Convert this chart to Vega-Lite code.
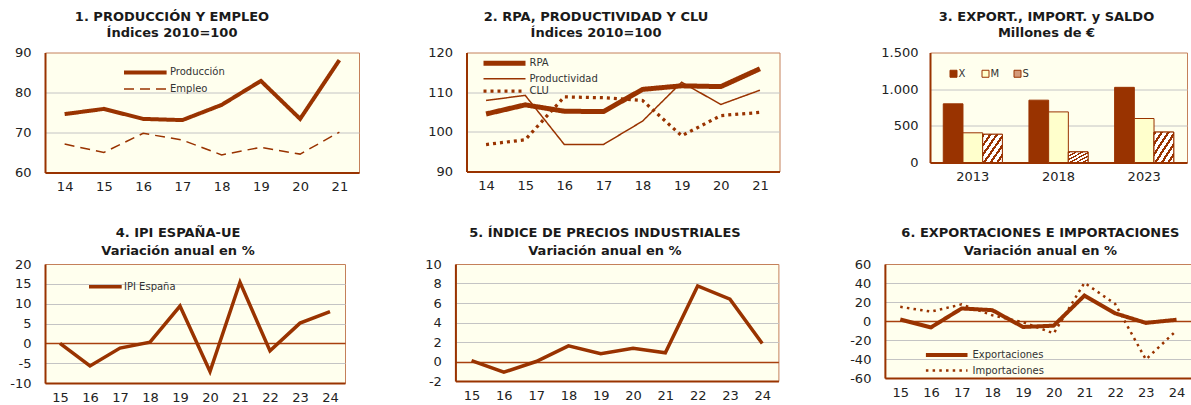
{
  "$schema": "https://vega.github.io/schema/vega-lite/v6.json",
  "background": "white",
  "padding": {"left": 9, "top": 9.5, "right": 0, "bottom": 0},
  "config": {
    "font": "DejaVu Sans",
    "view": {"fill": "#FFFFEE", "stroke": "#C4805A", "strokeWidth": 1},
    "axis": {"labelFont": "DejaVu Sans", "labelFontSize": 13, "labelColor": "#222222", "ticks": false, "tickSize": 0, "domainColor": "#993300", "domainWidth": 2, "gridColor": "#C4C4C4", "gridWidth": 1, "labelPadding": 14},
    "axisX": {"labelAngle": 0, "grid": false, "labelPadding": 8},
    "title": {"font": "DejaVu Sans", "fontSize": 13, "fontWeight": "bold", "color": "#1a1a1a", "anchor": "middle", "frame": "group", "lineHeight": 16},
    "legend": {"orient": "none", "labelFont": "DejaVu Sans", "labelFontSize": 10, "labelColor": "#333333", "padding": 0}
  },
  "datasets": {
    "p1": [
      {"a": "14", "s": "Producción", "v": 74.6}, {"a": "15", "s": "Producción", "v": 75.9}, {"a": "16", "s": "Producción", "v": 73.4}, {"a": "17", "s": "Producción", "v": 73.1},
      {"a": "18", "s": "Producción", "v": 76.9}, {"a": "19", "s": "Producción", "v": 82.9}, {"a": "20", "s": "Producción", "v": 73.4}, {"a": "21", "s": "Producción", "v": 88.1},
      {"a": "14", "s": "Empleo", "v": 67.1}, {"a": "15", "s": "Empleo", "v": 65.0}, {"a": "16", "s": "Empleo", "v": 69.8}, {"a": "17", "s": "Empleo", "v": 68.1},
      {"a": "18", "s": "Empleo", "v": 64.4}, {"a": "19", "s": "Empleo", "v": 66.3}, {"a": "20", "s": "Empleo", "v": 64.6}, {"a": "21", "s": "Empleo", "v": 70.1}
    ],
    "p2": [
      {"a": "14", "s": "RPA", "v": 104.5}, {"a": "15", "s": "RPA", "v": 106.8}, {"a": "16", "s": "RPA", "v": 105.2}, {"a": "17", "s": "RPA", "v": 105.1},
      {"a": "18", "s": "RPA", "v": 110.7}, {"a": "19", "s": "RPA", "v": 111.6}, {"a": "20", "s": "RPA", "v": 111.4}, {"a": "21", "s": "RPA", "v": 115.9},
      {"a": "14", "s": "Productividad", "v": 107.9}, {"a": "15", "s": "Productividad", "v": 109.2}, {"a": "16", "s": "Productividad", "v": 96.8}, {"a": "17", "s": "Productividad", "v": 96.8},
      {"a": "18", "s": "Productividad", "v": 102.7}, {"a": "19", "s": "Productividad", "v": 112.5}, {"a": "20", "s": "Productividad", "v": 106.9}, {"a": "21", "s": "Productividad", "v": 110.5},
      {"a": "14", "s": "CLU", "v": 96.8}, {"a": "15", "s": "CLU", "v": 98.0}, {"a": "16", "s": "CLU", "v": 108.8}, {"a": "17", "s": "CLU", "v": 108.6},
      {"a": "18", "s": "CLU", "v": 107.9}, {"a": "19", "s": "CLU", "v": 99.0}, {"a": "20", "s": "CLU", "v": 104.1}, {"a": "21", "s": "CLU", "v": 104.9}
    ],
    "p3": [
      {"a": "2013", "s": "X", "v": 800}, {"a": "2013", "s": "M", "v": 405}, {"a": "2013", "s": "S", "v": 385},
      {"a": "2018", "s": "X", "v": 850}, {"a": "2018", "s": "M", "v": 690}, {"a": "2018", "s": "S", "v": 145},
      {"a": "2023", "s": "X", "v": 1025}, {"a": "2023", "s": "M", "v": 600}, {"a": "2023", "s": "S", "v": 415}
    ],
    "p4": [
      {"a": "15", "s": "IPI España", "v": 0}, {"a": "16", "s": "IPI España", "v": -5.7}, {"a": "17", "s": "IPI España", "v": -1.2}, {"a": "18", "s": "IPI España", "v": 0.3},
      {"a": "19", "s": "IPI España", "v": 9.4}, {"a": "20", "s": "IPI España", "v": -7.1}, {"a": "21", "s": "IPI España", "v": 15.4}, {"a": "22", "s": "IPI España", "v": -1.9},
      {"a": "23", "s": "IPI España", "v": 5.1}, {"a": "24", "s": "IPI España", "v": 8.0}
    ],
    "p5": [
      {"a": "15", "v": 0.1}, {"a": "16", "v": -1.1}, {"a": "17", "v": 0.0}, {"a": "18", "v": 1.6}, {"a": "19", "v": 0.8},
      {"a": "20", "v": 1.35}, {"a": "21", "v": 0.9}, {"a": "22", "v": 7.75}, {"a": "23", "v": 6.4}, {"a": "24", "v": 1.85}
    ],
    "p6": [
      {"a": "15", "s": "Exportaciones", "v": 1.6}, {"a": "16", "s": "Exportaciones", "v": -6.7}, {"a": "17", "s": "Exportaciones", "v": 13.2}, {"a": "18", "s": "Exportaciones", "v": 11.4},
      {"a": "19", "s": "Exportaciones", "v": -6.3}, {"a": "20", "s": "Exportaciones", "v": -4.9}, {"a": "21", "s": "Exportaciones", "v": 26.8}, {"a": "22", "s": "Exportaciones", "v": 8.1},
      {"a": "23", "s": "Exportaciones", "v": -2.0}, {"a": "24", "s": "Exportaciones", "v": 1.3},
      {"a": "15", "s": "Importaciones", "v": 14.9}, {"a": "16", "s": "Importaciones", "v": 9.9}, {"a": "17", "s": "Importaciones", "v": 17.5}, {"a": "18", "s": "Importaciones", "v": 6.0},
      {"a": "19", "s": "Importaciones", "v": -1.3}, {"a": "20", "s": "Importaciones", "v": -13}, {"a": "21", "s": "Importaciones", "v": 40.2}, {"a": "22", "s": "Importaciones", "v": 18},
      {"a": "23", "s": "Importaciones", "v": -40.5}, {"a": "24", "s": "Importaciones", "v": -9.9}
    ]
  },
  "spacing": 31.5,
  "resolve": {"scale": {"color": "independent", "fill": "independent", "strokeDash": "independent", "strokeWidth": "independent"}, "legend": {"color": "independent", "fill": "independent", "strokeDash": "independent", "strokeWidth": "independent"}},
  "vconcat": [
    {
      "spacing": 66.5,
      "resolve": {"scale": {"color": "independent", "fill": "independent", "strokeDash": "independent", "strokeWidth": "independent"}, "legend": {"color": "independent", "fill": "independent", "strokeDash": "independent", "strokeWidth": "independent"}},
      "hconcat": [
        {
          "width": 314, "height": 120,
          "title": {"text": ["1. PRODUCCIÓN Y EMPLEO", "Índices 2010=100"], "dx": -30, "offset": 7},
          "data": {"name": "p1"},
          "mark": {"type": "line", "color": "#993300"},
          "encoding": {
            "x": {"field": "a", "type": "ordinal", "title": null, "scale": {"type": "point", "padding": 0.5}},
            "y": {"field": "v", "type": "quantitative", "title": null, "scale": {"domain": [60, 90], "nice": false, "zero": false},
                  "axis": {"values": [60, 70, 80, 90], "gridOpacity": {"condition": {"test": "datum.value <= 60 || datum.value >= 90", "value": 0}, "value": 1}}},
            "strokeDash": {"field": "s", "type": "nominal", "title": null, "scale": {"domain": ["Producción", "Empleo"], "range": [[1, 0], [10, 6]]},
                  "legend": {"symbolType": "M0,0H17.04", "symbolSize": 25, "symbolStrokeColor": "#993300", "legendX": 74, "legendY": 14.9, "rowPadding": 3.6, "labelOffset": 41}},
            "strokeWidth": {"field": "s", "type": "nominal", "title": null, "scale": {"domain": ["Producción", "Empleo"], "range": [4, 1.5]},
                  "legend": {"symbolType": "M0,0H17.04", "symbolSize": 25, "symbolStrokeColor": "#993300", "legendX": 74, "legendY": 14.9, "rowPadding": 3.6, "labelOffset": 41}}
          }
        },
        {
          "spacing": 99.5,
          "resolve": {"scale": {"color": "independent", "fill": "independent", "strokeDash": "independent", "strokeWidth": "independent"}, "legend": {"color": "independent", "fill": "independent", "strokeDash": "independent", "strokeWidth": "independent"}},
          "hconcat": [
            {
              "width": 313, "height": 119,
              "title": {"text": ["2. RPA, PRODUCTIVIDAD Y CLU", "Índices 2010=100"], "dx": -27, "offset": 7},
              "data": {"name": "p2"},
              "mark": {"type": "line", "color": "#993300"},
              "encoding": {
                "x": {"field": "a", "type": "ordinal", "title": null, "scale": {"type": "point", "padding": 0.5}},
                "y": {"field": "v", "type": "quantitative", "title": null, "scale": {"domain": [90, 120], "nice": false, "zero": false},
                      "axis": {"values": [90, 100, 110, 120], "gridOpacity": {"condition": {"test": "datum.value <= 90 || datum.value >= 120", "value": 0}, "value": 1}}},
                "strokeDash": {"field": "s", "type": "nominal", "title": null, "scale": {"domain": ["RPA", "CLU", "Productividad"], "range": [[1, 0], [3, 4], [1, 0]]},
                      "legend": {"values": ["RPA", "Productividad", "CLU"], "symbolType": "M0,0H16.8", "symbolSize": 25, "symbolStrokeColor": "#993300", "legendX": 12, "legendY": 5.7, "rowPadding": 0.5, "labelOffset": 41}},
                "strokeWidth": {"field": "s", "type": "nominal", "title": null, "scale": {"domain": ["RPA", "CLU", "Productividad"], "range": [5, 1.5]},
                      "legend": {"values": ["RPA", "Productividad", "CLU"], "symbolType": "M0,0H16.8", "symbolSize": 25, "symbolStrokeColor": "#993300", "legendX": 12, "legendY": 5.7, "rowPadding": 0.5, "labelOffset": 41}}
              }
            },
            {
              "width": 257, "height": 110,
              "title": {"text": ["3. EXPORT., IMPORT. y SALDO", "Millones de €"], "dx": -12, "offset": 7},
              "data": {"name": "p3"},
              "encoding": {
                "x": {"field": "a", "type": "ordinal", "title": null, "scale": {"paddingInner": 0.31, "paddingOuter": 0.155}},
                "xOffset": {"field": "s", "type": "nominal", "scale": {"domain": ["X", "M", "S"]}},
                "y": {"field": "v", "type": "quantitative", "title": null, "scale": {"domain": [0, 1500], "nice": false},
                      "axis": {"values": [0, 500, 1000, 1500], "labelPadding": 12, "labelExpr": "replace(format(datum.value, ','), ',', '.')",
                               "gridOpacity": {"condition": {"test": "datum.value <= 0 || datum.value >= 1500", "value": 0}, "value": 1}}}
              },
              "layer": [
                {
                  "mark": {"type": "bar", "stroke": "#993300", "strokeWidth": 1},
                  "encoding": {
                    "fill": {"field": "s", "type": "nominal", "title": null, "scale": {"domain": ["X", "M", "S"], "range": ["#993300", "#FFFFCC", "#D49A7A"]},
                             "legend": {"direction": "horizontal", "symbolType": "square", "symbolSize": 49, "symbolStrokeColor": "#993300", "symbolStrokeWidth": 1, "labelOffset": 0, "columnPadding": 12, "gridAlign": "all", "legendX": 18.5, "legendY": 16}}
                  }
                },
                {
                  "transform": [{"filter": "datum.s === 'S'"}],
                  "mark": {"type": "bar", "stroke": "#993300", "strokeWidth": 1,
                           "fill": {"gradient": "linear", "x1": 0, "y1": 0, "x2": 1, "y2": 1, "stops": [
                             {"offset": 0, "color": "#993300"}, {"offset": 0.0667, "color": "#993300"}, {"offset": 0.0667, "color": "#FFFFFF"}, {"offset": 0.1667, "color": "#FFFFFF"},
                             {"offset": 0.1667, "color": "#993300"}, {"offset": 0.2333, "color": "#993300"}, {"offset": 0.2333, "color": "#FFFFFF"}, {"offset": 0.3333, "color": "#FFFFFF"},
                             {"offset": 0.3333, "color": "#993300"}, {"offset": 0.4, "color": "#993300"}, {"offset": 0.4, "color": "#FFFFFF"}, {"offset": 0.5, "color": "#FFFFFF"},
                             {"offset": 0.5, "color": "#993300"}, {"offset": 0.5667, "color": "#993300"}, {"offset": 0.5667, "color": "#FFFFFF"}, {"offset": 0.6667, "color": "#FFFFFF"},
                             {"offset": 0.6667, "color": "#993300"}, {"offset": 0.7333, "color": "#993300"}, {"offset": 0.7333, "color": "#FFFFFF"}, {"offset": 0.8333, "color": "#FFFFFF"},
                             {"offset": 0.8333, "color": "#993300"}, {"offset": 0.9, "color": "#993300"}, {"offset": 0.9, "color": "#FFFFFF"}, {"offset": 1, "color": "#FFFFFF"}
                           ]}}
                }
              ]
            }
          ]
        }
      ]
    },
    {
      "spacing": 77.4,
      "resolve": {"scale": {"color": "independent", "fill": "independent", "strokeDash": "independent", "strokeWidth": "independent"}, "legend": {"color": "independent", "fill": "independent", "strokeDash": "independent", "strokeWidth": "independent"}},
      "hconcat": [
        {
          "width": 300, "height": 119,
          "title": {"text": ["4. IPI ESPAÑA-UE", "Variación anual en %"], "dx": -17, "offset": 0.5, "lineHeight": 17.5},
          "data": {"name": "p4"},
          "mark": {"type": "line", "strokeWidth": 3.5},
          "encoding": {
            "x": {"field": "a", "type": "ordinal", "title": null, "scale": {"type": "point", "padding": 0.5}},
            "y": {"field": "v", "type": "quantitative", "title": null, "scale": {"domain": [-10, 20], "nice": false, "zero": false},
                  "axis": {"values": [-10, -5, 0, 5, 10, 15, 20], "labelExpr": "'' + datum.value",
                           "gridOpacity": {"condition": {"test": "datum.value <= -10 || datum.value >= 20", "value": 0}, "value": 1},
                           "gridColor": {"condition": {"test": "datum.value === 0", "value": "#A8400E"}, "value": "#C4C4C4"},
                           "gridWidth": {"condition": {"test": "datum.value === 0", "value": 1.5}, "value": 1}}},
            "color": {"field": "s", "type": "nominal", "title": null, "scale": {"range": ["#993300"]},
                      "legend": {"symbolType": "M0,0H13.08", "symbolSize": 25, "symbolStrokeWidth": 3.5, "legendX": 39, "legendY": 17.7, "labelOffset": 30}}
          }
        },
        {
          "spacing": 69.5,
          "resolve": {"scale": {"color": "independent", "fill": "independent", "strokeDash": "independent", "strokeWidth": "independent"}, "legend": {"color": "independent", "fill": "independent", "strokeDash": "independent", "strokeWidth": "independent"}},
          "hconcat": [
            {
              "width": 323, "height": 117,
              "title": {"text": ["5. ÍNDICE DE PRECIOS INDUSTRIALES", "Variación anual en %"], "dx": -12, "offset": 0.5, "lineHeight": 17.5},
              "data": {"name": "p5"},
              "mark": {"type": "line", "strokeWidth": 3.5, "color": "#993300"},
              "encoding": {
                "x": {"field": "a", "type": "ordinal", "title": null, "scale": {"type": "point", "padding": 0.5}},
                "y": {"field": "v", "type": "quantitative", "title": null, "scale": {"domain": [-2, 10], "nice": false, "zero": false},
                      "axis": {"values": [-2, 0, 2, 4, 6, 8, 10], "labelExpr": "'' + datum.value",
                               "gridOpacity": {"condition": {"test": "datum.value <= -2 || datum.value >= 10", "value": 0}, "value": 1},
                               "gridColor": {"condition": {"test": "datum.value === 0", "value": "#A8400E"}, "value": "#C4C4C4"},
                               "gridWidth": {"condition": {"test": "datum.value === 0", "value": 1.5}, "value": 1}}}
              }
            },
            {
              "width": 307, "height": 114,
              "title": {"text": ["6. EXPORTACIONES E IMPORTACIONES", "Variación anual en %"], "dx": 2, "offset": 0.5, "lineHeight": 17.5},
              "data": {"name": "p6"},
              "mark": {"type": "line", "color": "#993300"},
              "encoding": {
                "x": {"field": "a", "type": "ordinal", "title": null, "scale": {"type": "point", "padding": 0.5}},
                "y": {"field": "v", "type": "quantitative", "title": null, "scale": {"domain": [-60, 60], "nice": false, "zero": false},
                      "axis": {"values": [-60, -40, -20, 0, 20, 40, 60], "labelExpr": "'' + datum.value",
                               "gridOpacity": {"condition": {"test": "datum.value <= -60 || datum.value >= 60", "value": 0}, "value": 1},
                               "gridColor": {"condition": {"test": "datum.value === 0", "value": "#A8400E"}, "value": "#C4C4C4"},
                               "gridWidth": {"condition": {"test": "datum.value === 0", "value": 1.5}, "value": 1}}},
                "strokeDash": {"field": "s", "type": "nominal", "title": null, "scale": {"domain": ["Exportaciones", "Importaciones"], "range": [[1, 0], [2.5, 4.2]]},
                      "legend": {"symbolType": "M0,0H16.64", "symbolSize": 25, "symbolStrokeColor": "#993300", "legendX": 36, "legendY": 86, "rowPadding": 2.5, "labelOffset": 41.6}},
                "strokeWidth": {"field": "s", "type": "nominal", "title": null, "scale": {"domain": ["Exportaciones", "Importaciones"], "range": [4, 2.5]},
                      "legend": {"symbolType": "M0,0H16.64", "symbolSize": 25, "symbolStrokeColor": "#993300", "legendX": 36, "legendY": 86, "rowPadding": 2.5, "labelOffset": 41.6}}
              }
            }
          ]
        }
      ]
    }
  ]
}
